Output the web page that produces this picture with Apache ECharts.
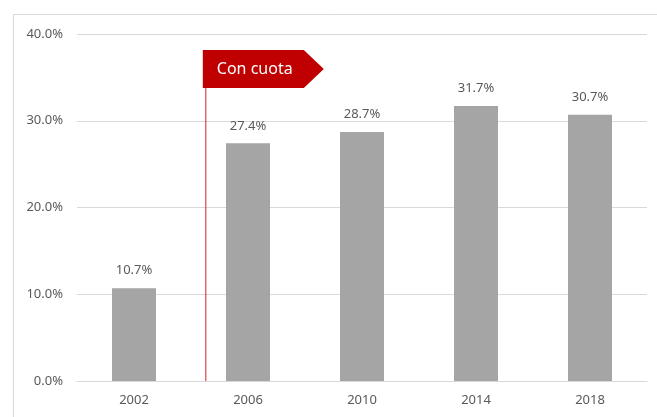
<!DOCTYPE html>
<html>
<head>
<meta charset="utf-8">
<script src="https://cdn.jsdelivr.net/npm/echarts@6/dist/echarts.min.js"></script>
<style>
  html, body { margin: 0; padding: 0; background: #fff; }
  #chart { width: 657px; height: 417px; }
</style>
</head>
<body>
<div id="chart"></div>
<script>
var years = ['2002', '2006', '2010', '2014', '2018'];
var shares = [10.7, 27.4, 28.7, 31.7, 30.7];
var flagText = 'Con cuota';
var flagPos = 0.63; // between first and second category

var font = '"Noto Sans", "Open Sans", sans-serif';
var chart = echarts.init(document.getElementById('chart'));

chart.setOption({
  animation: false,
  grid: { left: 77, right: 10, top: 34, bottom: 36 },
  xAxis: {
    type: 'category',
    data: years,
    axisTick: { show: false },
    axisLine: { lineStyle: { color: '#d9d9d9' } },
    axisLabel: { color: '#595959', fontFamily: font, fontSize: 13, margin: 13 }
  },
  yAxis: {
    type: 'value',
    min: 0, max: 40, interval: 10,
    axisLine: { show: false },
    axisTick: { show: false },
    splitLine: { lineStyle: { color: '#d9d9d9' } },
    axisLabel: {
      color: '#595959', fontFamily: font, fontSize: 13, margin: 14,
      formatter: function (v) { return v.toFixed(1) + '%'; }
    }
  },
  series: [{
    type: 'bar',
    data: shares,
    barWidth: 44,
    itemStyle: { color: '#a5a5a5' },
    label: {
      show: true, position: 'top', distance: 11,
      color: '#595959', fontFamily: font, fontSize: 13,
      formatter: function (p) { return p.value.toFixed(1) + '%'; }
    }
  }]
});

// frame + "Con cuota" flag, placed from the axes
var x0 = chart.convertToPixel({ xAxisIndex: 0 }, years[0]);
var x1 = chart.convertToPixel({ xAxisIndex: 0 }, years[1]);
var lx = x0 + (x1 - x0) * flagPos;
var yBase = chart.convertToPixel({ yAxisIndex: 0 }, 0);
var fTop = 50, fH = 38, fW = 101, tip = 20;

chart.setOption({
  graphic: [
    { type: 'rect', shape: { x: 13.5, y: 14.5, width: 700, height: 500 },
      style: { fill: 'none', stroke: '#d9d9d9', lineWidth: 1 }, silent: true },
    { type: 'line', shape: { x1: lx, y1: fTop, x2: lx, y2: yBase },
      style: { stroke: '#d0202a', lineWidth: 1 } },
    { type: 'polygon',
      shape: { points: [[lx - 3, fTop], [lx - 3 + fW, fTop], [lx - 3 + fW + tip, fTop + fH / 2],
                        [lx - 3 + fW, fTop + fH], [lx - 3, fTop + fH]] },
      style: { fill: '#c00000' } },
    { type: 'text', x: lx + 11, y: fTop + fH / 2,
      style: { text: flagText, fill: '#fff', font: '16px ' + font, textVerticalAlign: 'middle' } }
  ]
});
</script>
</body>
</html>
